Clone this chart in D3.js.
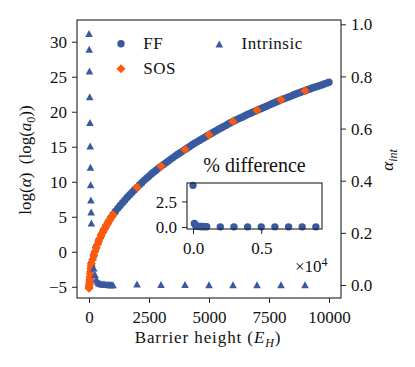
<!DOCTYPE html>
<html>
<head>
<meta charset="utf-8">
<script src="https://cdn.jsdelivr.net/npm/d3@7"></script>
<style>
  body { margin: 0; background: white; }
</style>
</head>
<body>
<div id="art"></div>
<script>
// FF: full (dense) calculation
const ffBarrier = [1, 20, 40, 60, 80, 100,
  200, 300, 400, 500, 600, 700, 800, 900, 1000,
  1100, 1200, 1300, 1400, 1500, 1600, 1700, 1800, 1900, 2000,
  2100, 2200, 2300, 2400, 2500, 2600, 2700, 2800, 2900, 3000,
  3100, 3200, 3300, 3400, 3500, 3600, 3700, 3800, 3900, 4000,
  4100, 4200, 4300, 4400, 4500, 4600, 4700, 4800, 4900, 5000,
  5100, 5200, 5300, 5400, 5500, 5600, 5700, 5800, 5900, 6000,
  6100, 6200, 6300, 6400, 6500, 6600, 6700, 6800, 6900, 7000,
  7100, 7200, 7300, 7400, 7500, 7600, 7700, 7800, 7900, 8000,
  8100, 8200, 8300, 8400, 8500, 8600, 8700, 8800, 8900, 9000,
  9100, 9200, 9300, 9400, 9500, 9600, 9700, 9800, 9900, 10000];
const ffLogAlpha = [-5.0, -4.5, -3.9, -3.1, -2.4, -1.7,
  -0.5, 0.6, 1.5, 2.3, 3.0, 3.6, 4.2, 4.8, 5.3,
  5.75, 6.2, 6.6, 7.0, 7.4, 7.8, 8.15, 8.5, 8.85, 9.2,
  9.55, 9.85, 10.2, 10.5, 10.8, 11.1, 11.4, 11.65, 11.95, 12.2,
  12.45, 12.7, 12.95, 13.2, 13.45, 13.7, 13.93, 14.15, 14.38, 14.6,
  14.83, 15.05, 15.28, 15.5, 15.7, 15.9, 16.1, 16.3, 16.5, 16.7,
  16.9, 17.1, 17.3, 17.5, 17.68, 17.85, 18.05, 18.25, 18.43, 18.6,
  18.78, 18.95, 19.1, 19.25, 19.43, 19.6, 19.75, 19.9, 20.05, 20.2,
  20.35, 20.5, 20.65, 20.8, 20.95, 21.1, 21.25, 21.4, 21.55, 21.7,
  21.83, 21.95, 22.08, 22.2, 22.35, 22.5, 22.63, 22.75, 22.88, 23.0,
  23.13, 23.25, 23.38, 23.5, 23.6, 23.7, 23.83, 23.95, 24.08, 24.2];

// SOS
const sosBarrier = [1, 10, 20, 30, 40, 50, 60, 70, 80, 90,
  100, 150, 200, 250, 300, 350, 400, 450, 500, 550,
  600, 650, 700, 750, 800, 850, 900, 950, 1000,
  2000, 3000, 4000, 5000, 6000, 7000, 8000, 9000];
const sosLogAlpha = [-5.2, -4.9, -4.6, -4.2, -3.9, -3.5, -3.1, -2.8, -2.4, -2.0,
  -1.7, -1.1, -0.5, 0.05, 0.6, 1.05, 1.5, 1.9, 2.3, 2.65,
  3.0, 3.3, 3.6, 3.9, 4.2, 4.5, 4.8, 5.05, 5.3,
  9.2, 12.2, 14.6, 16.7, 18.6, 20.2, 21.7, 23.0];

// Intrinsic (right axis)
const intBarrier = [1, 10, 20, 30, 40, 50, 60, 70, 80, 90, 100,
  200, 250, 300, 350, 400, 450, 500, 550, 600, 650,
  700, 750, 800, 850, 900, 950, 1000,
  2000, 3000, 4000, 5000, 6000, 7000, 8000, 9000];
const alphaInt = [0.964, 0.904, 0.820, 0.722, 0.623, 0.533, 0.451, 0.384, 0.326, 0.280, 0.237,
  0.065, 0.040, 0.022, 0.014, 0.008, 0.006, 0.004, 0.003, 0.002, 0.002,
  0.001, 0.001, 0.001, 0.0, 0.0, 0.0, 0.0,
  0.003, 0.001, 0.001, 0.0, 0.0, 0.0, 0.0, 0.0];

// inset: % difference
const diffBarrier = [1, 100, 200, 300, 400, 500, 600, 700, 800, 900, 1000,
  2000, 3000, 4000, 5000, 6000, 7000, 8000, 9000];
const diffPct = [4.07, 0.34, 0.12, 0.08, 0.06, 0.05, 0.04, 0.04, 0.03, 0.03, 0.03,
  0.01, 0.01, 0.01, 0.01, 0.01, 0.01, 0.01, 0.01];

const leftTicks = [-5, 0, 5, 10, 15, 20, 25, 30];
const rightTicks = [0.0, 0.2, 0.4, 0.6, 0.8, 1.0];
const xTicks = [0, 2500, 5000, 7500, 10000];
const insetXTicks = [0, 5000];
const insetYTicks = [0, 2.5];

const blue = "#3a5a9f";
const orange = "#ff5a0a";
const fs = 17;
const font = '"Liberation Serif", "Times New Roman", serif';

function art() {
  const width = 415, height = 367;
  const m = { left: 77, right: 341, top: 20, bottom: 298 };

  const svg = d3.select("#art").append("svg")
    .attr("width", width).attr("height", height);

  const x = d3.scaleLinear().domain([-500, 10500]).range([m.left, m.right]);
  const yL = d3.scaleLinear().domain([-6.6, 33.1]).range([m.bottom, m.top]);
  const yR = d3.scaleLinear().domain([-0.05, 1.0165]).range([m.bottom, m.top]);

  const circle = d3.symbol().type(d3.symbolCircle).size(Math.PI * 3.7 * 3.7);
  const diamond = "M0,-4.5L4.5,0L0,4.5L-4.5,0Z";
  const triangle = "M0,-3.6L3.8,3.4L-3.8,3.4Z";

  // FF
  svg.append("g").selectAll("path")
    .data(ffBarrier.map((b, i) => [b, ffLogAlpha[i]]))
    .enter().append("path")
    .attr("d", circle)
    .attr("transform", d => `translate(${x(d[0])},${yL(d[1])})`)
    .attr("fill", blue);

  // SOS
  svg.append("g").selectAll("path")
    .data(sosBarrier.map((b, i) => [b, sosLogAlpha[i]]))
    .enter().append("path")
    .attr("d", diamond)
    .attr("transform", d => `translate(${x(d[0])},${yL(d[1])})`)
    .attr("fill", orange);

  // Intrinsic on the twin axis
  svg.append("g").selectAll("path")
    .data(intBarrier.map((b, i) => [b, alphaInt[i]]))
    .enter().append("path")
    .attr("d", triangle)
    .attr("transform", d => `translate(${x(d[0])},${yR(d[1])})`)
    .attr("fill", blue);

  // axes
  const gx = svg.append("g").attr("transform", `translate(0,${m.bottom})`)
    .call(d3.axisBottom(x).tickValues(xTicks).tickSize(5).tickPadding(5).tickFormat(d3.format("d")));
  const gl = svg.append("g").attr("transform", `translate(${m.left},0)`)
    .call(d3.axisLeft(yL).tickValues(leftTicks).tickSize(5).tickPadding(5));
  const gr = svg.append("g").attr("transform", `translate(${m.right},0)`)
    .call(d3.axisRight(yR).tickValues(rightTicks).tickSize(5).tickPadding(5).tickFormat(d3.format(".1f")));

  [gx, gl, gr].forEach(g => {
    g.select(".domain").remove();
    g.selectAll("line").attr("stroke", "#222").attr("stroke-width", 1);
    g.selectAll("text").attr("font-size", fs);
  });
  gx.selectAll("text").attr("dy", null).attr("y", 24.5);
  gl.selectAll("text").attr("dy", "0.33em");
  gr.selectAll("text").attr("dy", "0.33em");

  svg.append("rect")
    .attr("x", m.left).attr("y", m.top)
    .attr("width", m.right - m.left).attr("height", m.bottom - m.top)
    .attr("fill", "none").attr("stroke", "#222").attr("stroke-width", 1.1);

  // axis labels
  const xl = svg.append("text").attr("x", 208).attr("y", 343)
    .attr("text-anchor", "middle").attr("font-size", fs).style("letter-spacing", "0.9px");
  xl.append("tspan").text("Barrier height (");
  xl.append("tspan").attr("font-style", "italic").text("E");
  xl.append("tspan").attr("font-style", "italic").attr("font-size", 12).attr("dy", 4).text("H");
  xl.append("tspan").attr("dy", -4).text(")");

  const ll = svg.append("text").attr("transform", "translate(31,160) rotate(-90)")
    .attr("text-anchor", "middle").attr("font-size", fs);
  ll.append("tspan").text("log(");
  ll.append("tspan").attr("font-style", "italic").text("α");
  ll.append("tspan").text(")\u2002(log(");
  ll.append("tspan").attr("font-style", "italic").text("a");
  ll.append("tspan").attr("font-size", 12).attr("dy", 4).text("0");
  ll.append("tspan").attr("dy", -4).text("))");

  const rl = svg.append("text").attr("transform", "translate(393,160) rotate(-90)")
    .attr("text-anchor", "middle").attr("font-size", fs);
  rl.append("tspan").attr("font-style", "italic").text("α");
  rl.append("tspan").attr("font-style", "italic").attr("font-size", 12).attr("dy", 4).text("int");

  // legend
  const legend = [
    { label: "FF", shape: circle(), fill: blue, mx: 121, my: 43.7 },
    { label: "SOS", shape: diamond, fill: orange, mx: 121, my: 68.7 },
    { label: "Intrinsic", shape: triangle, fill: blue, mx: 219.3, my: 44 }
  ];
  const lg = svg.append("g").selectAll("g").data(legend).enter().append("g");
  lg.append("path").attr("d", d => d.shape).attr("fill", d => d.fill)
    .attr("transform", d => `translate(${d.mx},${d.my})`);
  lg.append("text").attr("x", d => d.mx + 22.3).attr("y", d => d.my + 5.3)
    .attr("font-size", fs).style("letter-spacing", "0.5px").text(d => d.label);

  // inset
  const im = { left: 187, right: 322, top: 183, bottom: 229 };
  const ix = d3.scaleLinear().domain([-440, 9450]).range([im.left, im.right]);
  const iy = d3.scaleLinear().domain([-0.2, 4.3]).range([im.bottom, im.top]);

  svg.append("rect")
    .attr("x", im.left).attr("y", im.top)
    .attr("width", im.right - im.left).attr("height", im.bottom - im.top)
    .attr("fill", "white");

  svg.append("g").selectAll("path")
    .data(diffBarrier.map((b, i) => [b, diffPct[i]]))
    .enter().append("path")
    .attr("d", circle)
    .attr("transform", d => `translate(${ix(d[0])},${iy(d[1])})`)
    .attr("fill", blue);

  const igx = svg.append("g").attr("transform", `translate(0,${im.bottom})`)
    .call(d3.axisBottom(ix).tickValues(insetXTicks).tickSize(5).tickPadding(5)
      .tickFormat(d => d3.format(".1f")(d / 10000)));
  const igy = svg.append("g").attr("transform", `translate(${im.left},0)`)
    .call(d3.axisLeft(iy).tickValues(insetYTicks).tickSize(5).tickPadding(5).tickFormat(d3.format(".1f")));
  [igx, igy].forEach(g => {
    g.select(".domain").remove();
    g.selectAll("line").attr("stroke", "#222").attr("stroke-width", 1);
    g.selectAll("text").attr("font-size", fs);
  });
  igx.selectAll("text").attr("dy", null).attr("y", 24.5);
  igy.selectAll("text").attr("dy", "0.33em");

  svg.append("rect")
    .attr("x", im.left).attr("y", im.top)
    .attr("width", im.right - im.left).attr("height", im.bottom - im.top)
    .attr("fill", "none").attr("stroke", "#222").attr("stroke-width", 1.1);

  svg.append("text").attr("x", (im.left + im.right) / 2).attr("y", 172.3)
    .attr("text-anchor", "middle").attr("font-size", 20).text("% difference");

  const off = svg.append("text").attr("x", 295).attr("y", 272).attr("font-size", fs);
  off.append("tspan").text("×10");
  off.append("tspan").attr("font-size", 12).attr("dy", -6).text("4");

  // one serif face for every text
  svg.selectAll("text").style("font-family", font).style("fill", "#111");
}

window.onload = function () {
  art();
};
</script>
</body>
</html>
